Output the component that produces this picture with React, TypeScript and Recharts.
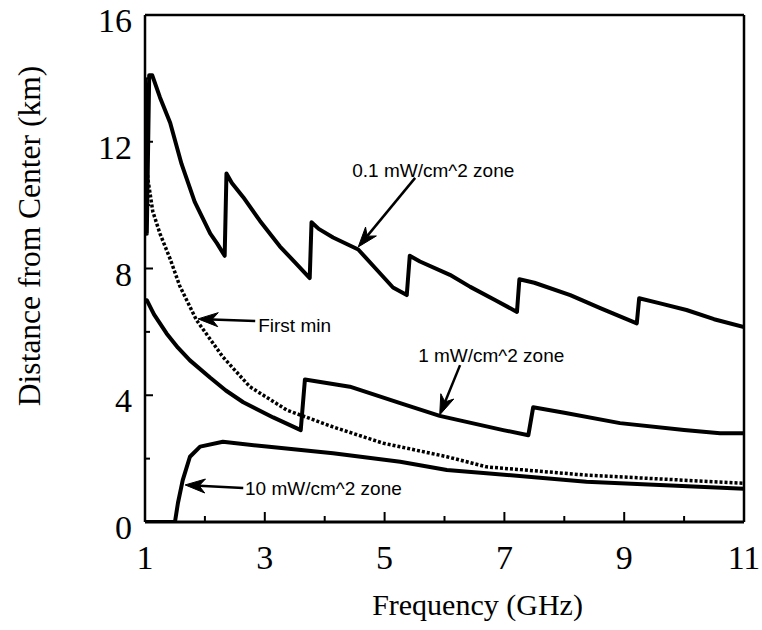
import React from "react";
import {
  LineChart,
  Line,
  XAxis,
  YAxis,
  ReferenceLine,
  ReferenceDot,
  Label,
} from "recharts";

// frequency (GHz) / distance (km)
const zone01Freq = [1.0, 1.03, 1.07, 1.12, 1.25, 1.42, 1.61, 1.83, 2.09, 2.2, 2.33, 2.36, 2.45, 2.64, 2.92, 3.25, 3.5, 3.75, 3.78, 3.9, 4.14, 4.56, 4.85, 5.14, 5.37, 5.42, 5.59, 6.09, 6.43, 6.85, 7.21, 7.25, 7.5, 8.1, 8.6, 9.21, 9.25, 9.6, 10.04, 10.5, 11.0];
const zone01Dist = [14.0, 9.1, 14.1, 14.1, 13.4, 12.6, 11.3, 10.1, 9.1, 8.8, 8.4, 11.0, 10.7, 10.25, 9.5, 8.7, 8.2, 7.7, 9.46, 9.25, 8.98, 8.6, 8.0, 7.4, 7.16, 8.4, 8.22, 7.8, 7.42, 7.0, 6.63, 7.66, 7.55, 7.16, 6.75, 6.27, 7.06, 6.9, 6.69, 6.4, 6.15];

const zone1Freq = [1.0, 1.03, 1.15, 1.36, 1.55, 1.75, 2.09, 2.35, 2.64, 3.14, 3.6, 3.67, 4.42, 5.26, 5.92, 6.98, 7.4, 7.48, 8.0, 8.93, 10.0, 10.6, 11.0];
const zone1Dist = [7.0, 7.0, 6.55, 5.95, 5.5, 5.1, 4.55, 4.15, 3.78, 3.3, 2.9, 4.5, 4.27, 3.75, 3.35, 2.9, 2.74, 3.62, 3.45, 3.12, 2.9, 2.8, 2.8];

const firstMinFreq = [1.0, 1.05, 1.13, 1.25, 1.42, 1.58, 1.86, 2.3, 2.75, 3.37, 4.14, 4.97, 6.04, 6.7, 8.37, 11.0];
const firstMinDist = [11.9, 10.8, 9.8, 9.1, 8.3, 7.45, 6.37, 5.21, 4.27, 3.53, 3.0, 2.49, 2.06, 1.74, 1.48, 1.22];

const zone10Freq = [1.0, 1.5, 1.55, 1.63, 1.75, 1.92, 2.3, 3.03, 4.14, 5.26, 6.04, 6.7, 8.37, 11.0];
const zone10Dist = [0, 0, 0.6, 1.32, 2.06, 2.38, 2.53, 2.38, 2.17, 1.9, 1.64, 1.54, 1.27, 1.05];

const xTicks = [1, 2, 3, 4, 5, 6, 7, 8, 9, 10, 11];
const xLabels = [1, 3, 5, 7, 9, 11];
const yTicks = [0, 2, 4, 6, 8, 10, 12, 14, 16];
const yLabels = [0, 4, 8, 12, 16];

// annotation text (start, baseline) and arrows (tail -> tip) in data units
const noteText = ["0.1 mW/cm^2 zone", "First min", "1 mW/cm^2 zone", "10 mW/cm^2 zone"];
const noteX = [4.46, 2.89, 5.56, 2.67];
const noteY = [10.89, 6.0, 5.05, 0.85];
const arrowTail = [[5.51, 10.86], [2.84, 6.34], [6.26, 4.95], [2.64, 1.07]];
const arrowTip = [[4.56, 8.68], [1.885, 6.41], [5.92, 3.38], [1.67, 1.17]];

const toPoints = (xs: number[], ys: number[]) => xs.map((x, i) => ({ x, y: ys[i] }));

const SERIF = "'Liberation Serif', 'Times New Roman', serif";
const SANS = "'Liberation Sans', Arial, sans-serif";

const XTick = (props: any) => {
  const { x, y, payload } = props;
  const major = xLabels.includes(payload.value);
  return (
    <g>
      <line x1={x} x2={x} y1={y} y2={y - (major ? 10 : 6)} stroke="#000" strokeWidth={2} />
      {major && (
        <text x={x} y={y + 47} textAnchor="middle" fontFamily={SERIF} fontSize={34} fill="#000">
          {payload.value}
        </text>
      )}
    </g>
  );
};

const YTick = (props: any) => {
  const { x, y, payload } = props;
  const major = yLabels.includes(payload.value);
  return (
    <g>
      <line x1={x} x2={x + (major ? 8 : 5)} y1={y} y2={y} stroke="#000" strokeWidth={2} />
      {major && (
        <text x={x - 13} y={y + 17} textAnchor="end" fontFamily={SERIF} fontSize={34} fill="#000">
          {payload.value}
        </text>
      )}
    </g>
  );
};

const arrowShape = (p: any) => {
  const { x1, y1, x2, y2 } = p;
  const a = Math.atan2(y2 - y1, x2 - x1);
  const len = 20;
  const w = 7;
  const bx = x2 - len * Math.cos(a);
  const by = y2 - len * Math.sin(a);
  const nx = x2 - len * 0.7 * Math.cos(a);
  const ny = y2 - len * 0.7 * Math.sin(a);
  const px = -Math.sin(a) * w;
  const py = Math.cos(a) * w;
  return (
    <g>
      <line x1={x1} y1={y1} x2={nx} y2={ny} stroke="#000" strokeWidth={2.5} />
      <polygon
        points={`${x2},${y2} ${bx + px},${by + py} ${nx},${ny} ${bx - px},${by - py}`}
        fill="#000"
        stroke="#000"
        strokeWidth={1}
      />
    </g>
  );
};

const noteShape = (text: string) => (p: any) => (
  <text x={p.cx} y={p.cy} fontFamily={SANS} fontSize={19} fill="#000">
    {text}
  </text>
);

export default function App() {
  return (
    <div style={{ position: "absolute", left: 0, top: 0, background: "#fff" }}>
      <LineChart width={762} height={630} margin={{ top: 15, right: 18, bottom: 48, left: 45 }}>
        <XAxis
          type="number"
          dataKey="x"
          domain={[1, 11]}
          ticks={xTicks}
          interval={0}
          height={60}
          tickSize={0}
          tickMargin={0}
          tick={<XTick />}
          axisLine={{ stroke: "#000", strokeWidth: 3 }}
          allowDataOverflow
        >
          <Label
            content={(lp: any) => (
              <text
                x={lp.viewBox.x + lp.viewBox.width / 2 + 33}
                y={lp.viewBox.y + 93}
                textAnchor="middle"
                fontFamily={SERIF}
                fontSize={30}
                fill="#000"
              >
                Frequency (GHz)
              </text>
            )}
          />
        </XAxis>
        <YAxis
          type="number"
          domain={[0, 16]}
          ticks={yTicks}
          interval={0}
          width={100}
          tickSize={0}
          tickMargin={0}
          tick={<YTick />}
          axisLine={{ stroke: "#000", strokeWidth: 2.5 }}
          allowDataOverflow
        >
          <Label
            content={() => {
              const cx = 40;
              const cy = 236;
              return (
                <text
                  x={cx}
                  y={cy}
                  transform={`rotate(-90 ${cx} ${cy})`}
                  textAnchor="middle"
                  fontFamily={SERIF}
                  fontSize={31.5}
                  fill="#000"
                >
                  Distance from Center (km)
                </text>
              );
            }}
          />
        </YAxis>
        <ReferenceLine y={16} stroke="#000" strokeWidth={2.5} />
        <ReferenceLine x={11} stroke="#000" strokeWidth={2.5} />

        <Line
          data={toPoints(firstMinFreq, firstMinDist)}
          dataKey="y"
          stroke="#000"
          strokeWidth={3.5}
          strokeDasharray="3 2"
          dot={false}
          type="linear"
          isAnimationActive={false}
        />
        <Line
          data={toPoints(zone01Freq, zone01Dist)}
          dataKey="y"
          stroke="#000"
          strokeWidth={4}
          strokeLinejoin="round"
          dot={false}
          type="linear"
          isAnimationActive={false}
        />
        <Line
          data={toPoints(zone1Freq, zone1Dist)}
          dataKey="y"
          stroke="#000"
          strokeWidth={4}
          strokeLinejoin="round"
          dot={false}
          type="linear"
          isAnimationActive={false}
        />
        <Line
          data={toPoints(zone10Freq, zone10Dist)}
          dataKey="y"
          stroke="#000"
          strokeWidth={4}
          strokeLinejoin="round"
          dot={false}
          type="linear"
          isAnimationActive={false}
        />

        {arrowTail.map((t, i) => (
          <ReferenceLine
            key={`arrow-${i}`}
            segment={[
              { x: t[0], y: t[1] },
              { x: arrowTip[i][0], y: arrowTip[i][1] },
            ]}
            shape={arrowShape}
          />
        ))}
        {noteText.map((txt, i) => (
          <ReferenceDot
            key={`note-${i}`}
            x={noteX[i]}
            y={noteY[i]}
            r={0}
            shape={noteShape(txt)}
          />
        ))}
      </LineChart>
    </div>
  );
}
